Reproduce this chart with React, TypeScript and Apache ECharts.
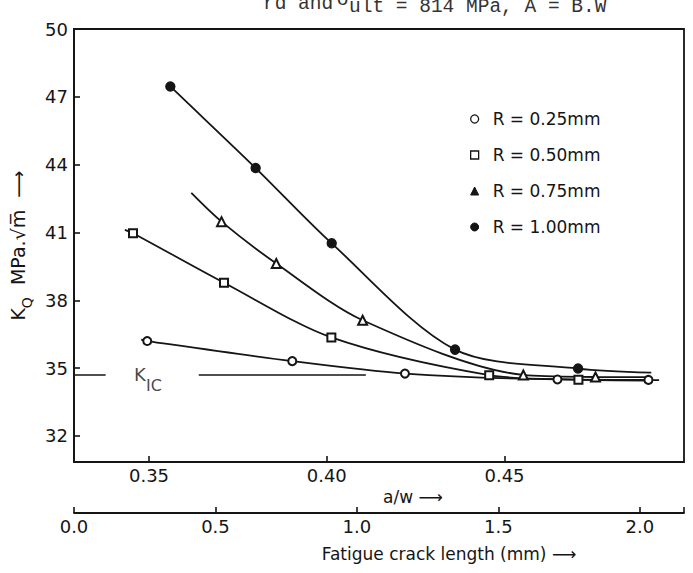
import React, { useEffect, useRef } from 'react';
import * as echarts from 'echarts';

// ---- axes ----
const awMin = 0.3289;
const awMax = 0.5005;
const kMin = 30.85;
const kMax = 50;
const lenMax = 2.156;
const awTicks = [0.35, 0.4, 0.45];
const kTicks = [32, 35, 38, 41, 44, 47, 50];
const lenTicks = [0, 0.5, 1.0, 1.5, 2.0];

// ---- series (a/w, K_Q) ----
const names = ['R = 0.25mm', 'R = 0.50mm', 'R = 0.75mm', 'R = 1.00mm'];
const r025Points = [[0.3495, 36.2], [0.3903, 35.31], [0.422, 34.76], [0.4649, 34.5], [0.4905, 34.48]];
const r025Ends = [[0.3478, 36.26], [0.4935, 34.47]];
const r050Points = [[0.3455, 40.97], [0.3711, 38.78], [0.4013, 36.36], [0.4457, 34.69], [0.4708, 34.49]];
const r050Ends = [[0.3432, 41.12], [0.49, 34.45]];
const r075Points = [[0.3704, 41.48], [0.3858, 39.63], [0.4101, 37.12], [0.4553, 34.7], [0.4756, 34.61]];
const r075Ends = [[0.3619, 42.75], [0.4913, 34.6]];
const r100Points = [[0.356, 47.46], [0.38, 43.85], [0.4014, 40.52], [0.4361, 35.82], [0.4707, 34.98]];
const r100Ends = [[0.3553, 47.58], [0.4913, 34.8]];

const kIC = 34.7;
const kicSegments = [[0.3289, 0.3378], [0.364, 0.411]];
const kicLabelAt = 0.3497;

const INK = '#151515';
const FONT = 'DejaVu Sans';
const MONO = '19.5px "Liberation Mono"';

function build(points: number[][], ends: number[][]) {
  return [
    { value: ends[0], symbol: 'none' },
    ...points.map((p) => ({ value: p })),
    { value: ends[1], symbol: 'none' },
  ];
}

function curve(name: string, points: number[][], ends: number[][], symbol: string, size: number) {
  return {
    name,
    type: 'line',
    smooth: 0.3,
    symbol,
    symbolSize: size,
    showAllSymbol: true,
    lineStyle: { color: INK, width: 1.8 },
    itemStyle: { color: INK, borderColor: INK, borderWidth: 1.4 },
    data: build(points, ends),
    z: 3,
  };
}

export default function App() {
  const ref = useRef<HTMLDivElement>(null);
  useEffect(() => {
    const chart = echarts.init(ref.current!, null, { renderer: 'svg' });
    const axisLine = { show: true, onZero: false, lineStyle: { color: INK, width: 1.8 } };
    const option: any = {
      animation: false,
      backgroundColor: '#fff',
      textStyle: { fontFamily: FONT, color: INK },
      grid: { left: 74, right: 9, top: 29, bottom: 111, show: true, borderColor: INK, borderWidth: 1.8 },
      legend: {
        orient: 'vertical',
        left: 465,
        top: 104,
        itemWidth: 8,
        itemHeight: 8,
        itemGap: 16,
        textStyle: { fontSize: 17, color: INK, lineHeight: 20, padding: [0, 0, 0, 9], fontFamily: FONT },
        data: [
          { name: names[0], icon: 'circle', itemStyle: { color: '#fff', borderColor: INK, borderWidth: 1.3 } },
          { name: names[1], icon: 'rect', itemStyle: { color: '#fff', borderColor: INK, borderWidth: 1.3 } },
          { name: names[2], icon: 'triangle', itemStyle: { color: INK, borderColor: INK, borderWidth: 1 } },
          { name: names[3], icon: 'circle', itemStyle: { color: INK, borderColor: INK, borderWidth: 1 } },
        ],
      },
      xAxis: [
        {
          type: 'value',
          min: awMin,
          max: awMax,
          position: 'bottom',
          axisLine,
          axisTick: { show: true, inside: true, length: 6, customValues: awTicks, lineStyle: { color: INK, width: 1.6 } },
          axisLabel: { customValues: awTicks, formatter: (v: number) => v.toFixed(2), margin: 4, fontSize: 18, color: INK },
          splitLine: { show: false },
          name: 'a/w \u27F6',
          nameLocation: 'middle',
          nameGap: 20,
          nameTextStyle: { fontSize: 17, color: INK, padding: [0, 0, 0, 68] },
        },
        {
          type: 'value',
          min: 0,
          max: lenMax,
          position: 'bottom',
          offset: 51,
          axisLine,
          axisTick: { show: true, inside: true, length: 6, customValues: [...lenTicks, lenMax], lineStyle: { color: INK, width: 1.6 } },
          axisLabel: { customValues: lenTicks, formatter: (v: number) => v.toFixed(1), margin: 4, fontSize: 18, color: INK },
          splitLine: { show: false },
          name: 'Fatigue crack length (mm) \u27F6',
          nameLocation: 'middle',
          nameGap: 32,
          nameTextStyle: { fontSize: 17, color: INK, padding: [0, 0, 0, 140] },
        },
      ],
      yAxis: {
        type: 'value',
        min: kMin,
        max: kMax,
        axisLine,
        axisTick: { show: true, inside: true, length: 6, customValues: kTicks, lineStyle: { color: INK, width: 1.6 } },
        axisLabel: { customValues: kTicks, margin: 6, fontSize: 18, color: INK },
        splitLine: { show: false },
        name: '{a|K}{b|Q}{a|  MPa.\u221Am\u0305  \u27F6}',
        nameLocation: 'middle',
        nameRotate: 90,
        nameGap: 26,
        nameTextStyle: {
          rich: {
            a: { fontSize: 19, color: INK, lineHeight: 18, verticalAlign: 'top', fontFamily: FONT },
            b: { fontSize: 14, color: INK, lineHeight: 26, verticalAlign: 'bottom', fontFamily: FONT },
          },
        },
      },
      series: [
        curve(names[0], r025Points, r025Ends, 'emptyCircle', 8),
        curve(names[1], r050Points, r050Ends, 'emptyRect', 8),
        curve(names[2], r075Points, r075Ends, 'emptyTriangle', 9),
        curve(names[3], r100Points, r100Ends, 'circle', 9),
        ...kicSegments.map((s, i) => ({
          name: 'kic' + i,
          type: 'line',
          symbol: 'none',
          lineStyle: { color: INK, width: 1.5 },
          data: [[s[0], kIC], [s[1], kIC]],
          z: 2,
        })),
        {
          name: 'kicLabel',
          type: 'scatter',
          symbolSize: 0,
          data: [[kicLabelAt, kIC]],
          label: {
            show: true,
            position: 'inside',
            offset: [0, 5],
            formatter: '{k|K}{s|IC}',
            rich: {
              k: { fontSize: 18, color: INK, lineHeight: 18, verticalAlign: 'top', fontFamily: FONT },
              s: { fontSize: 16, color: INK, lineHeight: 28, verticalAlign: 'bottom', fontFamily: FONT },
            },
          },
        },
      ],
      graphic: [
        { type: 'text', x: 263, y: 3.5, style: { text: 'rd and', font: MONO, fill: '#333', verticalAlign: 'middle' } },
        { type: 'text', x: 337, y: 0, style: { text: '\u03C3', font: MONO, fill: '#333', verticalAlign: 'middle' } },
        { type: 'text', x: 349, y: 6.8, style: { text: 'ult = 814 MPa, A = B.W', font: MONO, fill: '#333', verticalAlign: 'middle' } },
      ],
    };
    chart.setOption(option);
    return () => chart.dispose();
  }, []);
  return <div ref={ref} style={{ position: 'absolute', left: 0, top: 0, width: 693, height: 573 }} />;
}
